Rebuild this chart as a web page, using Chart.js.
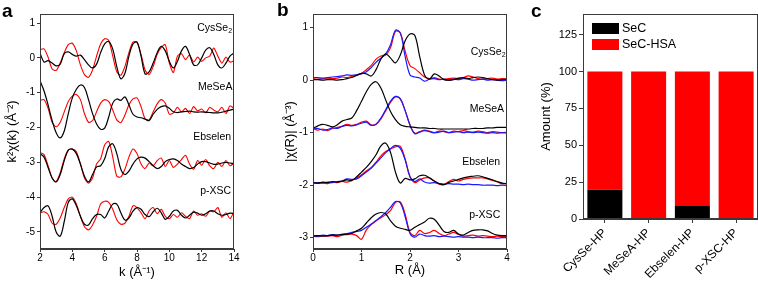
<!DOCTYPE html>
<html>
<head>
<meta charset="utf-8">
<script src="https://cdn.jsdelivr.net/npm/chart.js@4.4.0/dist/chart.umd.min.js"></script>
<style>
  body { margin: 0; background: #fff; }
  #wrap { position: relative; width: 758px; height: 281px; overflow: hidden; }
  canvas { position: absolute; top: 0; }
</style>
</head>
<body>
<div id="wrap">
  <canvas id="chart-a" width="240" height="281" style="left:0px"></canvas>
  <canvas id="chart-b" width="265" height="281" style="left:245px"></canvas>
  <canvas id="chart-c" width="248" height="281" style="left:510px"></canvas>
</div>
<script>
// ---- panel a : k-space EXAFS (offset curves) ----
var k_grid = [2,2.25,2.5,2.75,3,3.25,3.5,3.75,4,4.25,4.5,4.75,5,5.25,5.5,5.75,6,6.25,6.5,6.75,7,7.25,7.5,7.75,8,8.25,8.5,8.75,9,9.25,9.5,9.75,10,10.25,10.5,10.75,11,11.25,11.5,11.75,12,12.25,12.5,12.75,13,13.25,13.5,13.75,14]

var a_cys_black = [0.14,-0.12,-0.08,-0.15,-0.23,-0.18,0.12,0.17,0.10,0.05, 0.08,-0.05,-0.20,-0.29,-0.18,0.15,0.40,0.47,0.25,-0.25, -0.60,-0.45,0.05,0.40,0.45,0.05,-0.46,-0.40,-0.15,0.15, 0.33,0.20,-0.10,-0.29,-0.10,0.20,0.33,0.10,-0.20,-0.20, 0.00,0.22,0.29,0.10,-0.20,-0.29,-0.15,0.05,0.14]
var a_cys_red = [0.24,0.26,0.02,-0.32,-0.36,-0.15,0.15,0.38,0.42,0.20, -0.20,-0.48,-0.56,-0.35,0.05,0.40,0.55,0.50,0.05,-0.40, -0.50,-0.25,0.15,0.45,0.45,0.10,-0.35,-0.48,-0.25,0.10, 0.30,0.38,-0.15,-0.42,0.05,0.12,-0.05,0.08,-0.12,0.02, -0.10,0.00,0.05,0.28,0.05,-0.15,0.02,-0.12,-0.08]
var a_mesea_black = [-0.66,-0.95,-1.35,-1.80,-2.15,-2.30,-2.10,-1.60,-1.15,-0.90, -0.78,-0.85,-1.20,-1.60,-1.90,-2.05,-2.02,-1.70,-1.30,-1.18, -1.22,-1.12,-1.35,-1.62,-1.70,-1.72,-1.76,-1.80,-1.62,-1.48, -1.40,-1.38,-1.45,-1.55,-1.57,-1.55,-1.54,-1.53,-1.55,-1.56, -1.55,-1.56,-1.57,-1.58,-1.58,-1.56,-1.53,-1.50,-1.47]
var a_mesea_red = [-1.22,-1.20,-1.45,-1.85,-1.98,-1.85,-1.55,-1.25,-1.10,-1.05, -1.20,-1.60,-1.85,-1.80,-1.55,-1.30,-1.20,-1.25,-1.50,-1.78, -1.86,-1.65,-1.35,-1.18,-1.15,-1.40,-1.75,-1.78,-1.55,-1.32, -1.20,-1.30,-1.62,-1.58,-1.42,-1.55,-1.45,-1.60,-1.40,-1.52, -1.47,-1.58,-1.42,-1.50,-1.55,-1.42,-1.60,-1.38,-1.45]
var a_ebselen_black = [-2.75,-2.85,-3.15,-3.45,-3.56,-3.35,-2.95,-2.65,-2.62,-2.75, -3.05,-3.40,-3.56,-3.35,-3.13,-3.10,-2.90,-2.55,-2.47,-2.75, -3.20,-3.35,-3.25,-3.05,-2.90,-2.85,-2.88,-2.98,-3.10,-3.18, -3.12,-2.98,-2.92,-2.90,-2.95,-3.05,-3.12,-3.18,-3.15,-3.05, -2.98,-2.98,-3.02,-3.06,-3.05,-3.02,-3.00,-3.02,-3.04]
var a_ebselen_red = [-2.72,-2.78,-3.10,-3.45,-3.56,-3.30,-2.90,-2.65,-2.62,-2.70, -3.05,-3.45,-3.60,-3.45,-3.05,-2.90,-2.50,-2.40,-2.85,-3.40, -3.42,-3.20,-2.85,-2.62,-2.75,-3.05,-3.18,-3.02,-3.10,-2.95, -2.88,-3.12,-2.95,-3.15,-3.05,-2.92,-2.80,-3.05,-3.20,-2.95, -3.08,-2.92,-3.10,-3.18,-3.00,-3.12,-2.95,-3.10,-3.02]
var a_pxsc_black = [-4.45,-4.30,-4.25,-4.55,-5.00,-5.12,-4.70,-4.15,-4.05,-4.25, -4.55,-4.78,-4.80,-4.62,-4.50,-4.50,-4.60,-4.40,-4.20,-4.20, -4.45,-4.66,-4.60,-4.40,-4.30,-4.35,-4.50,-4.56,-4.42,-4.32, -4.45,-4.64,-4.55,-4.40,-4.38,-4.52,-4.60,-4.52,-4.43,-4.46, -4.52,-4.48,-4.40,-4.40,-4.48,-4.52,-4.50,-4.46,-4.47]
var a_pxsc_red = [-4.45,-4.42,-4.50,-4.75,-4.78,-4.60,-4.30,-4.05,-4.00,-4.20, -4.55,-4.85,-4.94,-4.80,-4.55,-4.20,-4.12,-4.15,-4.35,-4.65, -4.78,-4.75,-4.55,-4.25,-4.30,-4.45,-4.62,-4.40,-4.30,-4.48, -4.35,-4.55,-4.62,-4.50,-4.58,-4.45,-4.55,-4.62,-4.40,-4.52, -4.48,-4.55,-4.40,-4.42,-4.30,-4.58,-4.45,-4.62,-4.42]

var a_x_ticks = [2, 4, 6, 8, 10, 12, 14]
var a_y_ticks = [1, 0, -1, -2, -3, -4, -5]

// ---- panel b : R-space magnitude ----
var r_grid = [0,0.1,0.2,0.3,0.4,0.5,0.6,0.7,0.8,0.9,1,1.1,1.2,1.3,1.4,1.5,1.6,1.7,1.8,1.9,2,2.1,2.2,2.3,2.4,2.5,2.6,2.7,2.8,2.9,3,3.1,3.2,3.3,3.4,3.5,3.6,3.7,3.8,3.9,4]

var b_cys_black = [0.01,0.01,0.00,0.01,0.01,0.00,0.01,0.03,0.05,0.09, 0.13,0.12,0.08,0.20,0.40,0.50,0.42,0.33,0.48,0.75, 0.88,0.85,0.45,0.10,0.02,0.12,0.08,0.01,0.00,0.01, 0.04,0.05,0.03,0.05,0.06,0.05,0.03,0.01,0.00,0.01, 0.02]
var b_cys_red = [0.03,0.02,0.03,0.04,0.03,0.04,0.06,0.05,0.07,0.10, 0.13,0.20,0.28,0.40,0.46,0.48,0.62,0.93,0.90,0.55, 0.28,0.22,0.14,0.06,0.03,0.05,0.02,0.02,0.03,0.04, 0.03,0.05,0.08,0.06,0.03,0.02,0.03,0.04,0.02,0.03, 0.02]
var b_cys_blue = [0.05,0.05,0.04,0.05,0.06,0.07,0.08,0.10,0.09,0.10, 0.12,0.16,0.24,0.34,0.42,0.50,0.68,0.95,0.90,0.45, 0.10,0.06,0.04,-0.02,0.02,0.03,0.01,0.02,0.00,0.02, 0.01,0.03,0.02,0.00,0.01,0.02,0.00,0.01,0.00,-0.01, 0.00]
var b_mesea_black = [-0.92,-0.87,-0.84,-0.86,-0.89,-0.85,-0.78,-0.75,-0.72,-0.58, -0.40,-0.22,-0.08,-0.03,-0.15,-0.38,-0.60,-0.75,-0.85,-0.88, -0.89,-0.90,-0.91,-0.91,-0.92,-0.92,-0.93,-0.93,-0.93,-0.93, -0.93,-0.93,-0.93,-0.92,-0.92,-0.92,-0.91,-0.91,-0.90,-0.90, -0.90]
var b_mesea_red = [-0.92,-0.95,-0.93,-0.96,-0.92,-0.90,-0.88,-0.84,-0.86,-0.84, -0.80,-0.78,-0.85,-0.84,-0.74,-0.58,-0.42,-0.32,-0.36,-0.58, -0.85,-1.01,-0.98,-0.95,-0.97,-1.00,-0.97,-0.98,-1.00,-0.97, -0.98,-0.96,-0.98,-0.99,-0.97,-0.98,-1.00,-0.98,-0.99,-1.00, -0.99]
var b_mesea_blue = [-0.93,-0.92,-0.95,-0.94,-0.91,-0.92,-0.88,-0.86,-0.87,-0.85, -0.82,-0.80,-0.86,-0.84,-0.72,-0.56,-0.40,-0.31,-0.35,-0.58, -0.86,-1.02,-0.99,-0.96,-0.98,-1.00,-0.99,-0.97,-1.00,-0.99, -0.98,-1.00,-0.99,-1.00,-0.99,-1.00,-1.01,-1.00,-1.01,-1.00, -1.01]
var b_ebselen_black = [-1.95,-1.96,-1.94,-1.95,-1.93,-1.94,-1.92,-1.90,-1.91,-1.84, -1.75,-1.66,-1.55,-1.42,-1.25,-1.20,-1.38,-1.75,-1.96,-1.87, -1.90,-1.88,-1.82,-1.81,-1.86,-1.92,-1.97,-1.99,-1.95,-1.92, -1.89,-1.86,-1.84,-1.83,-1.82,-1.84,-1.87,-1.90,-1.93,-1.96, -1.97]
var b_ebselen_red = [-1.95,-1.96,-1.95,-1.97,-1.94,-1.95,-1.93,-1.94,-1.91,-1.86, -1.80,-1.73,-1.66,-1.56,-1.44,-1.36,-1.31,-1.27,-1.26,-1.50, -1.84,-1.95,-1.90,-1.86,-1.86,-1.92,-1.98,-1.99,-1.93,-1.89, -1.92,-1.89,-1.87,-1.86,-1.86,-1.86,-1.88,-1.91,-1.94,-1.97, -1.98]
var b_ebselen_blue = [-1.96,-1.95,-1.96,-1.94,-1.95,-1.93,-1.92,-1.88,-1.89,-1.88, -1.82,-1.75,-1.68,-1.58,-1.48,-1.38,-1.30,-1.24,-1.30,-1.52, -1.84,-1.93,-1.88,-1.94,-1.96,-1.95,-1.97,-1.98,-1.97,-1.98, -1.98,-1.99,-1.98,-1.99,-1.99,-2.00,-2.00,-2.00,-2.01,-2.00, -2.01]
var b_pxsc_black = [-2.97,-2.96,-2.97,-2.96,-2.95,-2.95,-2.94,-2.93,-2.92,-2.87, -2.82,-2.72,-2.62,-2.55,-2.52,-2.55,-2.68,-2.78,-2.82,-2.84, -2.86,-2.80,-2.75,-2.70,-2.63,-2.65,-2.76,-2.88,-2.90,-2.86, -2.93,-2.95,-2.90,-2.86,-2.85,-2.85,-2.87,-2.92,-2.95,-2.96, -2.96]
var b_pxsc_red = [-2.97,-2.98,-2.96,-2.97,-2.96,-2.98,-2.95,-2.94,-2.93,-2.96, -3.03,-2.85,-2.75,-2.68,-2.62,-2.56,-2.48,-2.33,-2.32,-2.55, -2.90,-2.96,-2.86,-2.92,-2.90,-2.86,-2.92,-2.96,-2.93,-2.90, -2.94,-2.97,-2.96,-2.95,-2.97,-2.96,-2.97,-2.98,-2.97,-2.98, -2.97]
var b_pxsc_blue = [-2.96,-2.97,-2.95,-2.96,-2.94,-2.95,-2.93,-2.92,-2.90,-2.88, -2.86,-2.80,-2.74,-2.67,-2.60,-2.52,-2.42,-2.31,-2.34,-2.60, -2.92,-2.99,-2.93,-2.96,-2.97,-2.96,-2.98,-2.97,-2.98,-2.99, -2.98,-2.99,-2.99,-3.00,-2.99,-3.00,-3.00,-3.00,-3.01,-3.00, -3.00]

var b_x_ticks = [0, 1, 2, 3, 4]
var b_y_ticks = [1, 0, -1, -2, -3]

// ---- panel c : stacked amounts ----
var c_categories = ['CysSe-HP', 'MeSeA-HP', 'Ebselen-HP', 'p-XSC-HP']
var c_sec = [19.8, 0, 8.8, 0]
var c_sec_hsa = [80.2, 100, 91.2, 100]
var c_y_ticks = [0, 25, 50, 75, 100, 125]

var font_family = "'Liberation Sans', Arial, sans-serif"
var axis_color = '#3a3a3a'
Chart.defaults.font.family = font_family
Chart.defaults.color = '#000'

function points(grid, values) {
  return grid.map((x, i) => ({ x: x, y: values[i] }))
}

function line(label, grid, values, color, width, tension) {
  return {
    label: label,
    data: points(grid, values),
    borderColor: color,
    borderWidth: width,
    pointRadius: 0,
    tension: tension,
    fill: false
  }
}

// box around the plot area
var frame_plugin = {
  id: 'frame',
  afterDatasetsDraw(chart) {
    var a = chart.chartArea, ctx = chart.ctx
    ctx.save()
    ctx.strokeStyle = axis_color
    ctx.lineWidth = 1
    ctx.strokeRect(Math.round(a.left) + 0.5, Math.round(a.top) + 0.5, Math.round(a.right - a.left) - 1, Math.round(a.bottom - a.top) - 1)
    ctx.restore()
  }
}

// sample names written next to their curve, in data units
var curve_labels_plugin = {
  id: 'curveLabels',
  afterDraw(chart, args, opts) {
    if (!opts.items) return
    var ctx = chart.ctx, xs = chart.scales.x, ys = chart.scales.y
    ctx.save()
    ctx.fillStyle = '#000'
    ctx.textBaseline = 'middle'
    ctx.textAlign = 'right'
    opts.items.forEach(function(it) {
      var px = xs.getPixelForValue(it.x), py = ys.getPixelForValue(it.y)
      var sub_w = 0
      if (it.sub) {
        ctx.font = '7px ' + font_family
        sub_w = ctx.measureText(it.sub).width
        ctx.fillText(it.sub, px, py + 3)
      }
      ctx.font = '10.5px ' + font_family
      ctx.fillText(it.text, px - sub_w, py)
    })
    ctx.restore()
  }
}

var panel_letter_plugin = {
  id: 'panelLetter',
  afterDraw(chart, args, opts) {
    if (!opts.text) return
    var ctx = chart.ctx
    ctx.save()
    ctx.font = 'bold 19px ' + font_family
    ctx.fillStyle = '#000'
    ctx.textBaseline = 'alphabetic'
    ctx.textAlign = 'left'
    ctx.fillText(opts.text, opts.x, opts.y)
    ctx.restore()
  }
}

// legend boxes inside the plot of panel c
var box_legend_plugin = {
  id: 'boxLegend',
  afterDraw(chart, args, opts) {
    if (!opts.show) return
    var ctx = chart.ctx, a = chart.chartArea
    ctx.save()
    ctx.font = '12.5px ' + font_family
    ctx.textBaseline = 'middle'
    ctx.textAlign = 'left'
    chart.data.datasets.forEach(function(ds, i) {
      var top = a.top + 9 + i * 16
      ctx.fillStyle = ds.backgroundColor
      ctx.fillRect(a.left + 9, top, 27, 11)
      ctx.fillStyle = '#000'
      ctx.fillText(ds.label, a.left + 39, top + 6)
    })
    ctx.restore()
  }
}

function value_axis(min, max, tick_values, title_text, title_pad, width) {
  return {
    type: 'linear',
    min: min,
    max: max,
    afterBuildTicks: function(scale) { scale.ticks = tick_values.map(v => ({ value: v })) },
    afterFit: function(scale) { scale.width = width },
    grid: { drawOnChartArea: false, drawTicks: true, tickLength: 3, color: axis_color },
    border: { display: true, color: axis_color },
    ticks: { font: { size: 10 }, padding: 2, color: '#000' },
    title: { display: true, text: title_text, font: { size: 13 }, padding: { top: title_pad, bottom: 0 }, color: '#000' }
  }
}

function position_axis(min, max, tick_values, title_text, title_pad) {
  return {
    type: 'linear',
    min: min,
    max: max,
    afterBuildTicks: function(scale) { scale.ticks = tick_values.map(v => ({ value: v })) },
    afterFit: function(scale) { scale.height = 32 },
    grid: { drawOnChartArea: false, drawTicks: true, tickLength: 3, color: axis_color },
    border: { display: true, color: axis_color },
    ticks: { font: { size: 10 }, padding: 0, color: '#000', maxRotation: 0 },
    title: { display: true, text: title_text, font: { size: 13 }, padding: { top: 0, bottom: title_pad }, color: '#000' }
  }
}

var black = '#000000', red = '#ff0000', blue = '#1a1aff'

new Chart(document.getElementById('chart-a').getContext('2d'), {
  type: 'line',
  data: {
    datasets: [
      line('CysSe2 ref', k_grid, a_cys_black, black, 1.2, 0.35),
      line('MeSeA ref', k_grid, a_mesea_black, black, 1.2, 0.35),
      line('Ebselen ref', k_grid, a_ebselen_black, black, 1.2, 0.35),
      line('p-XSC ref', k_grid, a_pxsc_black, black, 1.2, 0.35),
      line('CysSe2', k_grid, a_cys_red, red, 1.1, 0.25),
      line('MeSeA', k_grid, a_mesea_red, red, 1.1, 0.25),
      line('Ebselen', k_grid, a_ebselen_red, red, 1.1, 0.25),
      line('p-XSC', k_grid, a_pxsc_red, red, 1.1, 0.25)
    ]
  },
  options: {
    responsive: false,
    animation: false,
    devicePixelRatio: 1,
    events: [],
    layout: { padding: { top: 14, right: 6, left: 0, bottom: 0 } },
    scales: {
      x: position_axis(2, 14, a_x_ticks, 'k (Å⁻¹)', 1),
      y: value_axis(-5.49, 1.26, a_y_ticks, 'k²χ(k) (Å⁻²)', 5, 40)
    },
    plugins: {
      legend: { display: false },
      tooltip: { enabled: false },
      panelLetter: { text: 'a', x: 2, y: 17 },
      curveLabels: {
        items: [
          { text: 'CysSe', sub: '2', x: 13.88, y: 0.86 },
          { text: 'MeSeA', x: 13.9, y: -0.83 },
          { text: 'Ebselen', x: 13.82, y: -2.29 },
          { text: 'p-XSC', x: 13.82, y: -3.83 }
        ]
      }
    }
  },
  plugins: [frame_plugin, curve_labels_plugin, panel_letter_plugin]
});

new Chart(document.getElementById('chart-b').getContext('2d'), {
  type: 'line',
  data: {
    datasets: [
      line('CysSe2 ref', r_grid, b_cys_black, black, 1.2, 0.35),
      line('MeSeA ref', r_grid, b_mesea_black, black, 1.2, 0.35),
      line('Ebselen ref', r_grid, b_ebselen_black, black, 1.2, 0.35),
      line('p-XSC ref', r_grid, b_pxsc_black, black, 1.2, 0.35),
      line('CysSe2 fit', r_grid, b_cys_blue, blue, 1.2, 0.35),
      line('MeSeA fit', r_grid, b_mesea_blue, blue, 1.2, 0.35),
      line('Ebselen fit', r_grid, b_ebselen_blue, blue, 1.2, 0.35),
      line('p-XSC fit', r_grid, b_pxsc_blue, blue, 1.2, 0.35),
      line('CysSe2', r_grid, b_cys_red, red, 1.2, 0.35),
      line('MeSeA', r_grid, b_mesea_red, red, 1.2, 0.35),
      line('Ebselen', r_grid, b_ebselen_red, red, 1.2, 0.35),
      line('p-XSC', r_grid, b_pxsc_red, red, 1.2, 0.35)
    ]
  },
  options: {
    responsive: false,
    animation: false,
    devicePixelRatio: 1,
    events: [],
    layout: { padding: { top: 14, right: 3, left: 0, bottom: 0 } },
    scales: {
      x: position_axis(0, 4, b_x_ticks, 'R (Å)', 3),
      y: value_axis(-3.215, 1.26, b_y_ticks, '|χ(R)| (Å⁻³)', 38, 68)
    },
    plugins: {
      legend: { display: false },
      tooltip: { enabled: false },
      panelLetter: { text: 'b', x: 32, y: 16 },
      curveLabels: {
        items: [
          { text: 'CysSe', sub: '2', x: 3.97, y: 0.53 },
          { text: 'MeSeA', x: 3.94, y: -0.55 },
          { text: 'Ebselen', x: 3.86, y: -1.56 },
          { text: 'p-XSC', x: 3.86, y: -2.57 }
        ]
      }
    }
  },
  plugins: [frame_plugin, curve_labels_plugin, panel_letter_plugin]
});

new Chart(document.getElementById('chart-c').getContext('2d'), {
  type: 'bar',
  data: {
    labels: c_categories,
    datasets: [
      { label: 'SeC', data: c_sec, backgroundColor: '#000000', borderWidth: 0, barPercentage: 0.8, categoryPercentage: 1.0 },
      { label: 'SeC-HSA', data: c_sec_hsa, backgroundColor: '#ff0000', borderWidth: 0, barPercentage: 0.8, categoryPercentage: 1.0 }
    ]
  },
  options: {
    responsive: false,
    animation: false,
    devicePixelRatio: 1,
    events: [],
    layout: { padding: { top: 14, right: 0, left: 0, bottom: 0 } },
    scales: {
      x: {
        stacked: true,
        afterFit: function(scale) { scale.height = 62 },
        grid: { drawOnChartArea: false, drawTicks: true, tickLength: 4, offset: false, color: axis_color },
        border: { display: true, color: axis_color },
        ticks: { font: { size: 12 }, padding: 3, minRotation: 45, maxRotation: 45, autoSkip: false, color: '#000' }
      },
      y: {
        stacked: true,
        min: 0,
        max: 139,
        afterBuildTicks: function(scale) { scale.ticks = c_y_ticks.map(v => ({ value: v })) },
        afterFit: function(scale) { scale.width = 73 },
        grid: { drawOnChartArea: false, drawTicks: true, tickLength: 4, color: axis_color },
        border: { display: true, color: axis_color },
        ticks: { font: { size: 11 }, padding: 2, color: '#000' },
        title: { display: true, text: 'Amount (%)', font: { size: 13 }, padding: { top: 29, bottom: 0 }, color: '#000' }
      }
    },
    plugins: {
      legend: { display: false },
      tooltip: { enabled: false },
      panelLetter: { text: 'c', x: 21, y: 17 },
      boxLegend: { show: true }
    }
  },
  plugins: [frame_plugin, panel_letter_plugin, box_legend_plugin]
});
</script>
</body>
</html>
